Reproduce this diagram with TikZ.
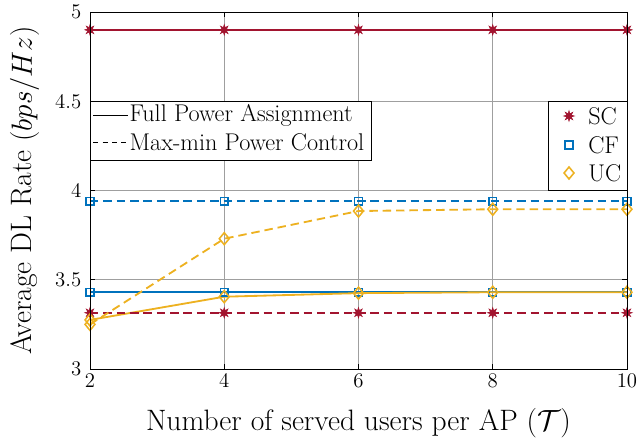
\documentclass[tikz,border=0pt]{standalone}
\usepackage{amsmath}
\usepackage{amssymb}
\usetikzlibrary{shapes.geometric, positioning}
\definecolor{scred}{rgb}{0.635,0.078,0.184}
\definecolor{cfblue}{rgb}{0,0.447,0.741}
\definecolor{ucyellow}{rgb}{0.929,0.694,0.125}
\newcommand{\tickfont}{\fontsize{14.8}{17}\selectfont}
\newcommand{\labfont}{\fontsize{21}{25}\selectfont}
\newcommand{\legfont}{\fontsize{17.2}{20}\selectfont}
\tikzset{
    gridline/.style = {gray!75, line width=0.5pt},
    fullline/.style = {line width=1.3pt},
    mmline/.style = {line width=1.3pt, dash pattern=on 6pt off 3.5pt},
    scmark/.style = {star, star points=8, star point ratio=2.2, fill=scred, draw=scred, inner sep=0pt, minimum size=7.5pt},
    cfmark/.style = {rectangle, draw=cfblue, line width=1.1pt, inner sep=0pt, minimum size=5.5pt},
    ucmark/.style = {diamond, draw=ucyellow, line width=1.1pt, inner sep=0pt, minimum width=7.5pt, minimum height=9pt},
    legbox/.style = {draw=black, fill=white, line width=0.5pt},
    ticklabel/.style = {font=\tickfont, inner sep=2pt},
    legtext/.style = {font=\legfont, anchor=west}
}

\begin{document}
\begin{tikzpicture}
    \useasboundingbox (0,0) rectangle (16,11.025);
    \begin{scope}[x=1.678cm, y=4.4625cm, shift={(-1.106cm,-11.5875cm)}]
        % Grid
        \foreach \x in {4,6,8} \draw[gridline] (\x,3) -- (\x,5);
        \foreach \y in {3.5,4,4.5} \draw[gridline] (2,\y) -- (10,\y);
        
        % Ticks
        \foreach \x in {2,4,...,10} {
            \draw[line width=0.5pt] (\x,3) -- ++(0,0.028);
            \draw[line width=0.5pt] (\x,5) -- ++(0,-0.028);
        }
        \foreach \y in {3,3.5,4,4.5,5} {
            \draw[line width=0.5pt] (2,\y) -- ++(0.075,0);
            \draw[line width=0.5pt] (10,\y) -- ++(-0.075,0);
        }
        
        % Tick labels
        \foreach \x in {2,4,...,10} \node[ticklabel, below=1pt] (xt\x) at (\x,3) {\x};
        \foreach \y/\n in {3/a,3.5/b,4/c,4.5/d,5/e} \node[ticklabel, left=4pt] (yt\n) at (2,\y) {\y};
        
        % Full power assignment
        \draw[fullline, scred] (2,4.9) -- (4,4.9) -- (6,4.9) -- (8,4.9) -- (10,4.9);
        \draw[fullline, cfblue] (2,3.43) -- (4,3.43) -- (6,3.43) -- (8,3.43) -- (10,3.43);
        \draw[fullline, ucyellow] (2,3.275) -- (4,3.405) -- (6,3.425) -- (8,3.43) -- (10,3.43);
        
        % Max-min power control
        \draw[mmline, scred] (2,3.315) -- (4,3.315) -- (6,3.315) -- (8,3.315) -- (10,3.315);
        \draw[mmline, cfblue] (2,3.94) -- (4,3.94) -- (6,3.94) -- (8,3.94) -- (10,3.94);
        \draw[mmline, ucyellow] (2,3.25) -- (4,3.73) -- (6,3.885) -- (8,3.895) -- (10,3.895);
        
        % Markers
        \foreach \x in {2,4,...,10} {
            \node[scmark] (scf\x) at (\x,4.9) {};
            \node[scmark] (scm\x) at (\x,3.315) {};
            \node[cfmark] (cff\x) at (\x,3.43) {};
            \node[cfmark] (cfm\x) at (\x,3.94) {};
        }
        \foreach \x/\yf/\ym in {2/3.275/3.25, 4/3.405/3.73, 6/3.425/3.885, 8/3.43/3.895, 10/3.43/3.895} {
            \node[ucmark] (ucf\x) at (\x,\yf) {};
            \node[ucmark] (ucm\x) at (\x,\ym) {};
        }
        
        % Axis box
        \draw[line width=0.6pt] (2,3) rectangle (10,5);
        
        % Axis labels
        \node[font=\labfont] (xlabel) at (6,2.6975) {Number of served users per AP ($\mathcal{T}$)};
        \node[font=\labfont, rotate=90] (ylabel) at (1.025,4) {Average DL Rate $(bps/Hz)$};
    \end{scope}
    
    % Legend - line styles
    \draw[legbox] (2.25,7.008) rectangle (9.275,8.483);
    \coordinate (lsa) at (2.33,8.15);
    \coordinate (lsb) at (3.2,8.15);
    \coordinate (lma) at (2.33,7.475);
    \coordinate (lmb) at (3.2,7.475);
    \draw[line width=0.6pt] (lsa) -- (lsb);
    \draw[line width=0.6pt, dash pattern=on 3.5pt off 3.2pt] (lma) -- (lmb);
    \node[legtext, inner sep=1pt] (lfull) at (lsb) {Full Power Assignment};
    \node[legtext, inner sep=1pt] (lmm) at (lmb) {Max-min Power Control};
    
    % Legend - schemes
    \draw[legbox] (13.7,6.275) rectangle (15.675,8.5);
    \node[scmark] (lsc) at (14.225,8.125) {};
    \node[cfmark] (lcf) at (14.225,7.4) {};
    \node[ucmark] (luc) at (14.225,6.7) {};
    \node[legtext, inner sep=0pt] (tsc) at (14.7,8.125) {SC};
    \node[legtext, inner sep=0pt] (tcf) at (14.7,7.4) {CF};
    \node[legtext, inner sep=0pt] (tuc) at (14.7,6.7) {UC};
\end{tikzpicture}
\end{document}
